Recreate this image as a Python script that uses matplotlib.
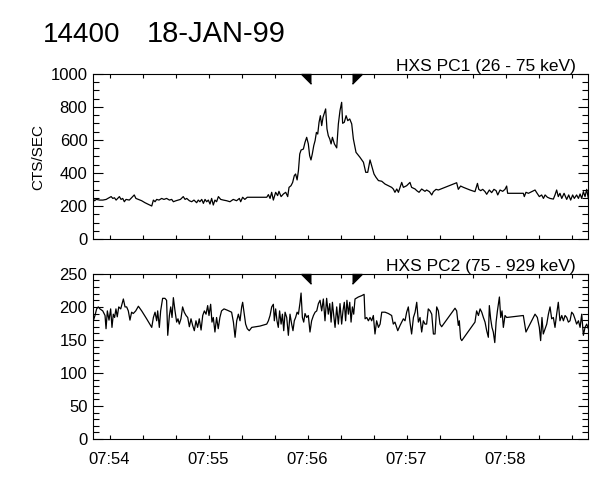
import datetime as dt
import matplotlib
matplotlib.use("Agg")
import matplotlib.pyplot as plt
import matplotlib.dates as mdates
from matplotlib.ticker import MultipleLocator, NullFormatter

plt.rcParams["font.family"] = ["Liberation Sans", "DejaVu Sans"]

# time axis: seconds after 07:53:50 UT on 18-JAN-99
pc1_sec = [0, 1, 2, 4, 6, 8, 9, 11, 12, 13, 14, 16, 17, 18, 19, 20, 22, 23, 24, 25,
           26, 27.5, 29.5, 31.5, 33.5, 35.6, 36.6, 37.6, 38.6, 40, 41.6, 43, 44.6,
           46.3, 47.7, 48.7, 50.3, 51.7, 53, 54.7, 55.8, 56.8, 58.4, 59.8, 61.2, 62.8,
           63.8, 64.8, 65.9, 66.9, 67.9, 68.9, 69.9, 70.9, 71.9, 72.9, 73.9, 74.9, 76,
           77.4, 79, 81, 83, 85, 87, 88.7, 89.5, 90.7, 92, 93.5, 101,
           105.3, 106.3, 107.3, 108.3, 109.3, 110.7, 111.9, 112.7, 114, 115.4, 116.8,
           118, 118.8, 120, 121, 122, 122.8, 123.7, 124.5, 125.3, 126.1, 127.5, 128.5,
           129.5, 130.5, 131.3, 132.1, 132.9, 133.8, 134.6, 135.4, 136.2, 137, 137.8,
           138.6, 139.4, 141, 141.8, 142.6, 143.5, 144.3, 145.1, 146.3, 147.7, 148.7,
           149.7, 150.7, 151.3, 152.3, 153.4, 154.4, 155.6, 156.8, 157.8, 159.4, 161.8,
           163.9, 165.3, 166.5, 167.9, 168.9, 170.3, 171.5, 173, 175, 177, 179, 181,
           182, 183, 184.1, 185.1, 187.1, 188.1, 190.1, 192.1, 193.1, 195.2, 196.2,
           197.6, 199.2, 201.2,
           202.2, 203.9, 205.3, 206.3, 207.9, 209.3, 211.3, 213.4, 215.4, 217.4, 219.4,
           220.4, 221.4, 222.8, 224.5, 226.5, 228.5, 231.5, 233, 233.8, 235, 236.2,
           237.6, 238.6, 240.2, 241.6, 243, 244.3, 245.3, 246.7, 248.3, 249.7, 250.7,
           251.3, 260.8, 261.4, 262.4, 263.9, 265.9, 267.9, 268.9, 270.5, 271.9, 273,
           274, 275.4, 277, 279, 280, 281, 282, 283, 284.1, 285.5, 287.1, 288.3, 289.5,
           290.7, 291.7, 293.1, 294.2, 295.2, 296.2, 297.2, 298.2, 299.2, 300.2]
pc1_cts = [246, 232, 240, 236, 236, 240, 246, 257, 246, 250, 236, 257, 240, 246, 226, 240, 236, 246, 257, 267,
           246, 240, 232, 220, 210, 200, 236, 226, 240, 236, 246, 240, 246,
           236, 240, 226, 232, 236, 240, 257, 240, 246, 232, 226, 236, 220,
           236, 226, 240, 216, 240, 226, 236, 212, 246, 206, 236, 226, 257,
           240, 236, 232, 226, 240, 232, 246, 226, 253, 240, 253, 253,
           253, 269, 246, 283, 236, 283, 263, 289, 257, 273, 283,
           257, 313, 323, 343, 384, 394, 358, 414, 515, 539, 545, 586,
           616, 576, 505, 479, 515, 566, 596, 646, 636, 707, 747,
           687, 737, 788, 667, 626, 606, 576, 616, 576, 552, 697,
           778, 828, 701, 707, 747, 717, 727, 697, 606, 525, 495,
           465, 404, 404, 479, 444, 394, 374, 354, 350, 333, 323, 313,
           303, 283, 303, 283, 343, 313, 323, 343, 313, 303, 293,
           283, 303, 289,
           297, 287, 267, 287, 301, 297, 305, 313, 321, 329, 337,
           341, 301, 321, 313, 305, 297, 287, 337, 301, 293, 301,
           287, 271, 297, 281, 301, 293, 267, 297, 289, 301, 321,
           277, 277, 257, 283, 277, 287, 297, 281, 257, 267, 246,
           267, 253, 246, 242, 267, 297, 257, 277, 246, 277, 240, 267, 236,
           267, 246, 267, 246, 273, 246, 287, 257, 301, 246]

pc2_sec = [0.2, 1.2, 2.2, 3.2, 4.2, 5.9, 7.3, 7.9, 8.7, 9.7, 10.7, 11.5, 12.3, 13.1, 13.9,
           14.7, 15.6, 16.8, 18.4, 19.4, 20.4, 21.4, 22.4, 23.4, 24.4, 25.9, 27.5, 29.5,
           32.5, 35.6, 36.6, 37.6, 38.6, 39.2, 40.2, 41, 42.2, 43.6, 44.6, 45.3, 46.3,
           47.1, 47.9, 48.7, 49.7, 50.7, 51.5, 52.3, 53.3, 54.3, 55.3, 56.4, 57.4, 58.4,
           59.4, 60.4, 61.4, 62.4, 63.4, 64.4, 65.5, 66.5, 67.5, 68.5, 69.5, 70.3, 71.3,
           72.1, 72.9, 73.9, 74.9, 75.9, 76.9, 77.9, 79.4, 81.4, 84, 85.1, 86.1, 87.1,
           88.1, 89.1, 90.1, 90.7, 91.5, 92.5, 93.5, 94.7, 96.2, 101.2,
           105.3, 106.3, 107.3, 108.3, 109.3, 109.9, 110.7, 111.5, 112.3, 113.1, 114,
           114.8, 115.6, 116.4, 117.4, 118.4, 119.4, 120.4, 121.2, 122, 122.8, 123.7,
           124.5, 125.5, 126.1, 126.9, 127.7, 128.5, 129.5, 130.5, 131.5, 132.5, 133.6,
           134.6, 135.6, 136.6, 137.6, 138.6, 139.6, 140.6, 141.6, 142.6, 143.5, 144.3,
           145.1, 145.9, 146.7, 147.7, 148.7, 149.7, 150.7, 151.5, 152.3, 153.1, 153.9,
           154.8, 155.6, 156.4, 157.2, 158, 158.8, 160.8, 162.8, 164.3, 164.9, 165.9,
           166.9, 167.9, 168.9, 169.9, 170.9, 171.9, 173, 174, 175, 177, 179, 181, 182,
           183, 184.7, 186.1, 187.1, 188.1, 189.1, 190.1, 191.1, 192.1, 193.1, 194.2,
           195.2, 196.2, 197.2, 198.2, 199.2, 200.2, 201.2,
           202.2, 203.2, 204.3, 205.3, 206.3, 207.3, 208.3, 209.3, 210.3, 211.3, 219.4,
           220.4, 221.4, 222, 222.8, 223.5, 231.5, 232.5, 233.6, 234.6, 235.6, 236.6,
           237.6, 238.6, 239.6, 240.2, 241, 241.8, 242.6, 243.5, 244.3, 245.1, 245.7,
           246.3, 247.1, 247.9, 248.7, 249.7, 250.7, 260.8, 262.4, 267.9, 269.3, 270.5,
           271.3, 272.1, 272.9, 274, 275, 276, 277, 278, 279, 280, 281, 282, 283, 284.1,
           285.1, 286.1, 287.1, 288.1, 289.1, 290.1, 291.1, 292.1, 293.1, 294.2, 295.2,
           296.2, 297.2, 298.2, 299.2, 300.2]
pc2_cts = [179, 187, 197, 200, 197, 194, 187, 167, 194, 180, 197, 169, 189, 184, 197,
           185, 200, 197, 212, 200, 200, 194, 180, 192, 190, 194, 201, 194,
           182, 169, 184, 192, 179, 194, 169, 194, 213, 213, 210, 157, 187,
           200, 184, 214, 194, 177, 182, 174, 182, 200, 192, 187, 184, 170,
           182, 172, 164, 179, 169, 182, 165, 187, 194, 189, 202, 187, 204,
           177, 184, 162, 184, 167, 184, 194, 197, 195, 192, 177, 154, 179,
           189, 179, 200, 207, 192, 174, 167, 164, 169, 171,
           174, 179, 187, 200, 204, 179, 197, 179, 169, 194, 174,
           189, 164, 192, 184, 157, 189, 174, 164, 179, 184, 192,
           189, 207, 221, 184, 177, 190, 184, 187, 162, 179, 187,
           192, 194, 205, 210, 194, 212, 179, 213, 189, 205, 177,
           207, 187, 169, 200, 174, 205, 174, 194, 207, 179, 210,
           189, 207, 177, 200, 189, 212, 215, 217, 219, 182, 184,
           179, 184, 179, 187, 159, 179, 169, 174, 192, 192, 190, 187, 174,
           177, 164, 172, 177, 182, 179, 192, 200, 177, 159, 184,
           192, 207, 177, 184, 162, 179, 174,
           174, 197, 194, 189, 159, 159, 200, 194, 174, 170, 198,
           194, 172, 179, 152, 149, 177, 194, 187, 197, 192, 184,
           177, 164, 154, 202, 182, 169, 162, 146, 177, 194, 205,
           215, 184, 194, 169, 187, 184, 187, 162, 189, 184, 169,
           149, 184, 159, 167, 174, 189, 200, 182, 184, 169, 189, 207, 179, 187,
           179, 187, 184, 177, 179, 192, 189, 182, 174, 179, 169,
           189, 157, 169, 174, 167]

mark_times = ["07:56:02", "07:56:27"]
panel_titles = ["HXS PC1 (26 - 75 keV)", "HXS PC2 (75 - 929 keV)"]

t0 = dt.datetime(1999, 1, 18, 7, 53, 50)
t1 = [t0 + dt.timedelta(seconds=s) for s in pc1_sec]
t2 = [t0 + dt.timedelta(seconds=s) for s in pc2_sec]
marks = [dt.datetime.combine(t0.date(), dt.datetime.strptime(m, "%H:%M:%S").time())
         for m in mark_times]
xlim = (t0, t0 + dt.timedelta(minutes=5))

fig = plt.figure(figsize=(6, 4.8), dpi=100)
ax1 = fig.add_axes([0.155, 0.502, 0.825, 0.344])
ax2 = fig.add_axes([0.155, 0.0854, 0.825, 0.344])

for ax, t, y, ymax, maj, mnr, title in [
    (ax1, t1, pc1_cts, 1000, 200, 50, panel_titles[0]),
    (ax2, t2, pc2_cts, 250, 50, 10, panel_titles[1]),
]:
    ax.plot(t, y, color="black", lw=0.9)
    ax.set_xlim(xlim)
    ax.set_ylim(0, ymax)
    ax.xaxis.set_major_locator(mdates.MinuteLocator())
    ax.xaxis.set_minor_locator(mdates.SecondLocator(bysecond=[0, 20, 40]))
    ax.xaxis.set_major_formatter(mdates.DateFormatter("%H:%M"))
    ax.yaxis.set_major_locator(MultipleLocator(maj))
    ax.yaxis.set_minor_locator(MultipleLocator(mnr))
    ax.tick_params(axis="both", which="both", direction="in", top=True, right=True,
                   width=0.8, labelsize=12, colors="black")
    ax.tick_params(axis="x", which="both", length=3, pad=9)
    ax.tick_params(axis="y", which="major", length=7.5, pad=4)
    ax.tick_params(axis="y", which="minor", length=4)
    for sp in ax.spines.values():
        sp.set_linewidth(0.8)
    ax.text(0.976, 1.0, title, transform=ax.transAxes, ha="right", va="bottom",
            fontsize=12.5)
    # interval markers on the top edge
    ax.plot([mdates.date2num(marks[0])], [ymax], marker=[(0, 0), (-1, 0), (0, -1)],
            ms=14, color="black", clip_on=False, linestyle="none")
    ax.plot([mdates.date2num(marks[1])], [ymax], marker=[(0, 0), (1, 0), (0, -1)],
            ms=14, color="black", clip_on=False, linestyle="none")

ax1.xaxis.set_major_formatter(NullFormatter())

fig.text(0.063, 0.673, "CTS/SEC", rotation=90, ha="center", va="center", fontsize=11)
fig.text(43 / 600, 1 - 42 / 480, "14400", fontsize=20, va="baseline")
fig.text(147 / 600, 1 - 42 / 480, "18-JAN-99", fontsize=21, va="baseline",
         fontweight="light")

fig.savefig("out.png", dpi=100)
